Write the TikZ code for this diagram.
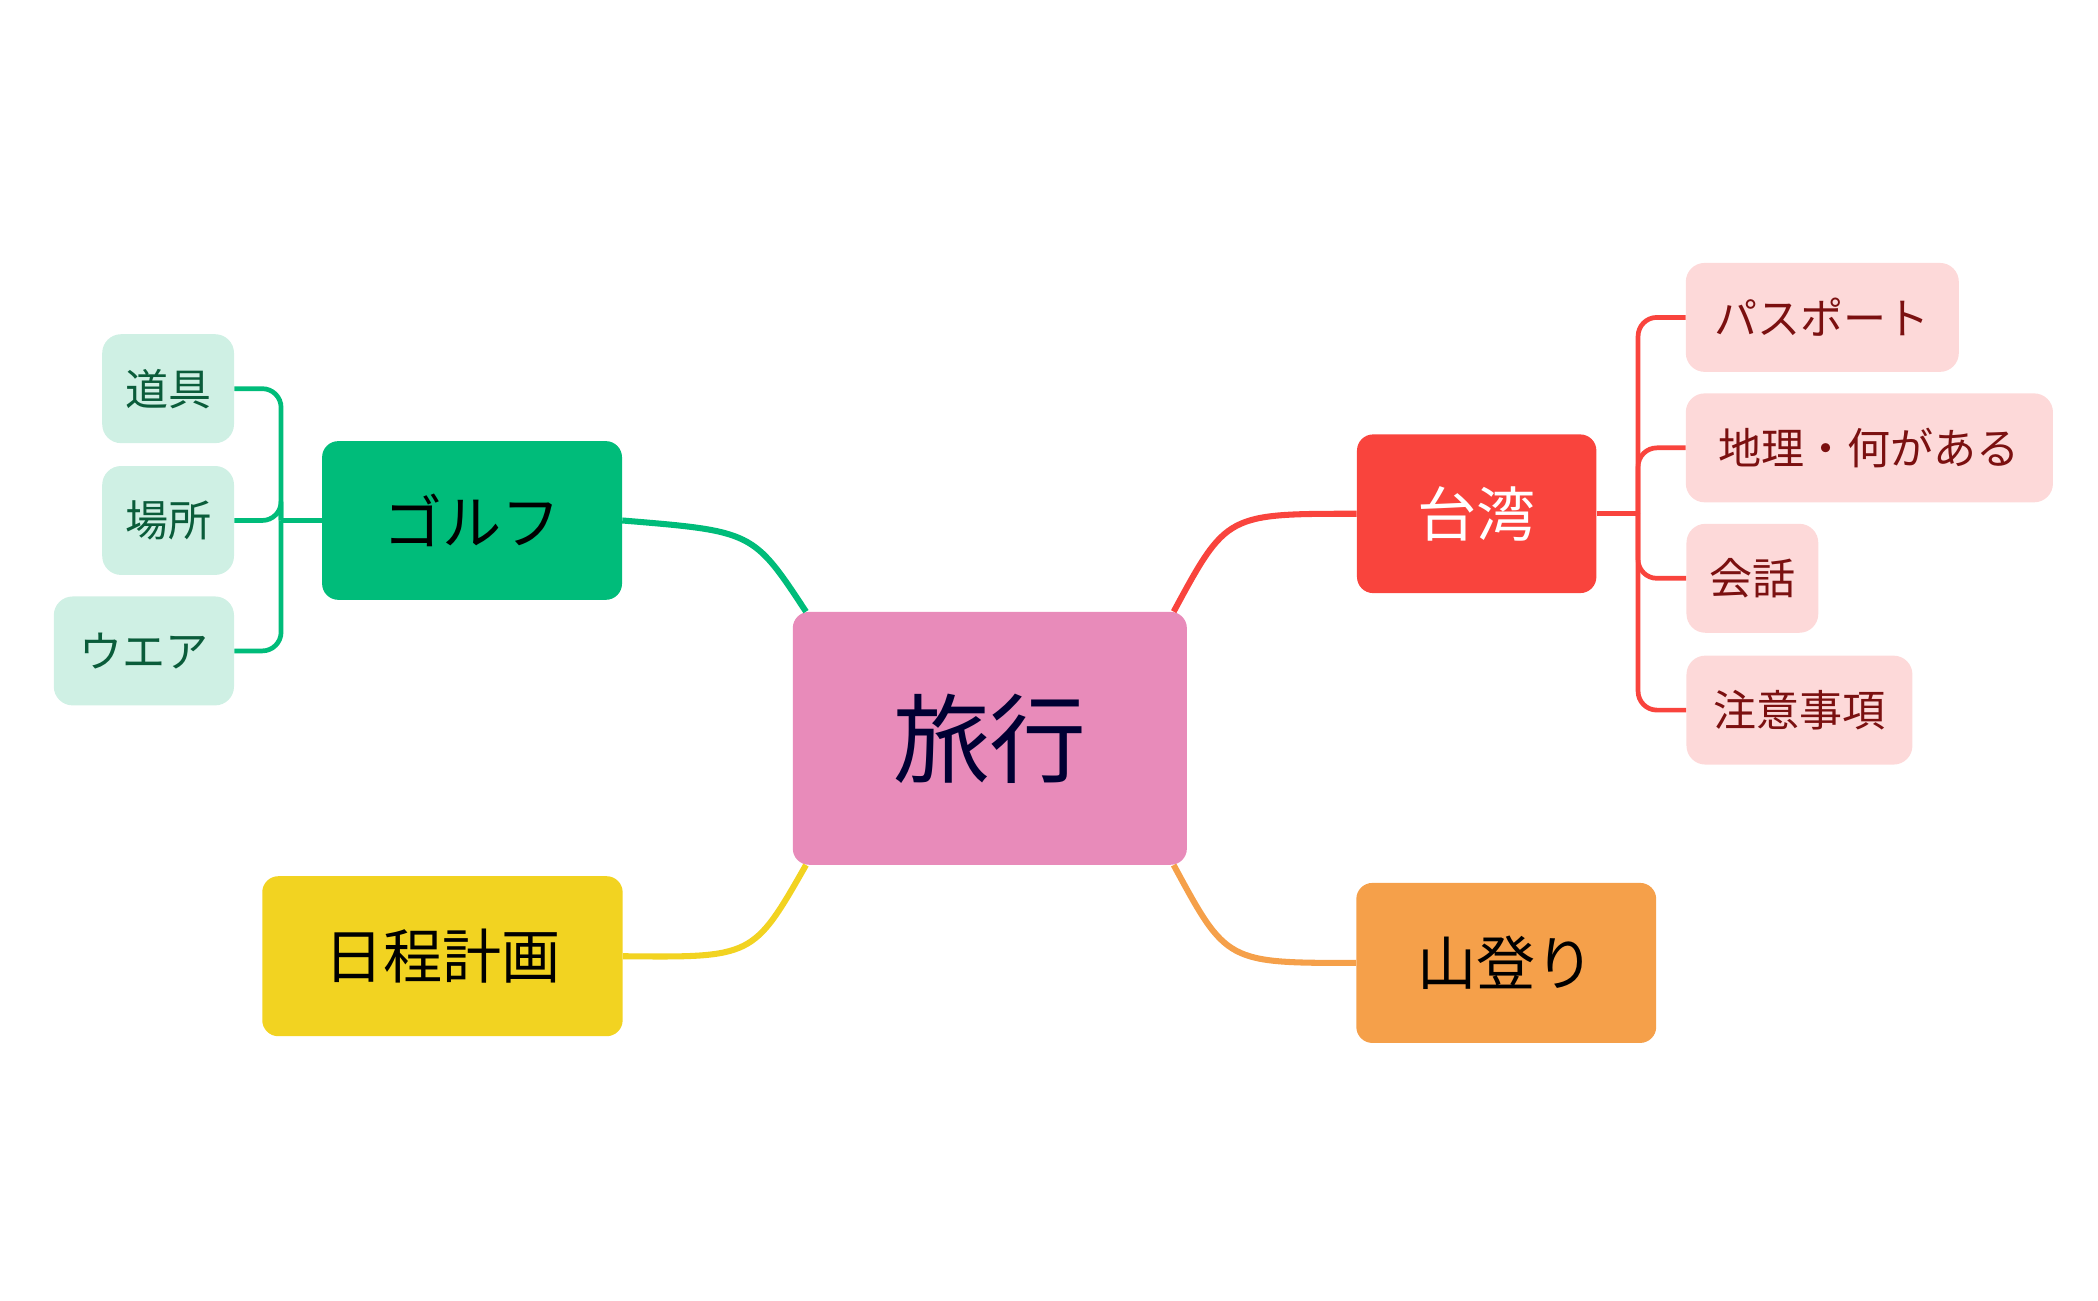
\documentclass[tikz,border=0pt]{standalone}
\usepackage{fontspec}
\setmainfont{Noto Sans CJK JP}
\usetikzlibrary{positioning}

\definecolor{pinkc}{HTML}{E88BBA}
\definecolor{greenc}{HTML}{00BC7A}
\definecolor{yellowc}{HTML}{F2D321}
\definecolor{redc}{HTML}{F9443D}
\definecolor{orangec}{HTML}{F5A04A}
\definecolor{leafred}{HTML}{FDD9D9}
\definecolor{leafredtext}{HTML}{7B1010}
\definecolor{leafgreen}{HTML}{CFF0E4}
\definecolor{leafgreentext}{HTML}{0A5C3A}

\tikzset{
  topic/.style={rounded corners=12pt, inner sep=0pt, font=\fontsize{44}{50}\selectfont},
  leaf/.style={rounded corners=14pt, inner sep=0pt, minimum height=81pt, font=\fontsize{32}{38}\selectfont},
  link/.style={line width=4.5pt}
}

\begin{document}
\begin{tikzpicture}[x=1pt, y=-1pt]

  \useasboundingbox (0,0) rectangle (1560,967);

  % Centre
  \node[topic, fill=pinkc, minimum width=293pt, minimum height=188pt,
        font=\fontsize{72}{80}\selectfont, text=black!80!blue] (trip) at (736,549) {旅行};

  % Main topics
  \node[topic, fill=greenc, minimum width=223pt, minimum height=118pt] (golf) at (351,387) {ゴルフ};
  \node[topic, fill=yellowc, minimum width=268pt, minimum height=119pt] (plan) at (329,711) {日程計画};
  \node[topic, fill=redc, minimum width=178pt, minimum height=118pt, text=white] (taiwan) at (1098,382) {台湾};
  \node[topic, fill=orangec, minimum width=223pt, minimum height=119pt] (hike) at (1120,716) {山登り};

  % Taiwan leaves
  \node[leaf, fill=leafred, text=leafredtext, minimum width=203pt] (passport) at (1355,236) {パスポート};
  \node[leaf, fill=leafred, text=leafredtext, minimum width=273pt] (geo) at (1390,333) {地理・何がある};
  \node[leaf, fill=leafred, text=leafredtext, minimum width=98pt] (talk) at (1303,430) {会話};
  \node[leaf, fill=leafred, text=leafredtext, minimum width=168pt] (notes) at (1338,528) {注意事項};

  % Golf leaves
  \node[leaf, fill=leafgreen, text=leafgreentext, minimum width=98pt] (gear) at (125,289) {道具};
  \node[leaf, fill=leafgreen, text=leafgreentext, minimum width=98pt] (place) at (125,387) {場所};
  \node[leaf, fill=leafgreen, text=leafgreentext, minimum width=134pt] (wear) at (107,484) {ウエア};

  % Branches
  \draw[link, greenc] ([xshift=10pt]trip.north west) .. controls (560,395) .. (golf.east);
  \draw[link, yellowc] ([xshift=10pt]trip.south west) .. controls (560,712) .. (plan.east);
  \draw[link, redc] ([xshift=-10pt]trip.north east) .. controls (912,382) .. (taiwan.west);
  \draw[link, orangec] ([xshift=-10pt]trip.south east) .. controls (912,716) .. (hike.west);

  % Brackets
  \coordinate (tw-b) at (1218,382);
  \draw[line width=3.5pt, redc] (taiwan.east) -- (tw-b);
  \foreach \n in {passport,geo,talk,notes}
    \draw[line width=3.5pt, redc, rounded corners=14pt] (tw-b) |- (\n.west);

  \coordinate (gf-b) at (209,387);
  \draw[line width=3.5pt, greenc] (golf.west) -- (gf-b);
  \foreach \n in {gear,place,wear}
    \draw[line width=3.5pt, greenc, rounded corners=14pt] (gf-b) |- (\n.east);

\end{tikzpicture}
\end{document}
